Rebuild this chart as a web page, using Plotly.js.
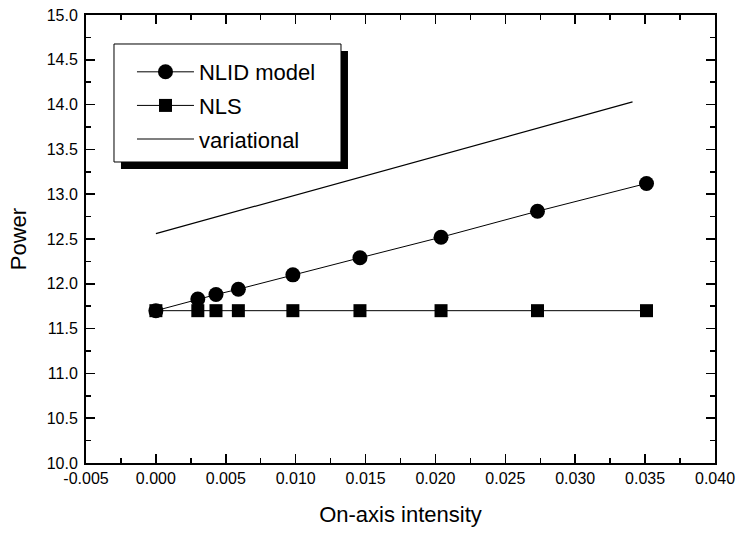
<!DOCTYPE html>
<html>
<head>
<meta charset="utf-8">
<script src="https://cdn.plot.ly/plotly-3.0.1.min.js"></script>
<style>html,body{margin:0;padding:0;background:#fff;}#chart{width:739px;height:536px;}</style>
</head>
<body>
<div id="chart"></div>
<script>
// Data
var nlidX = [0.0000, 0.0030, 0.0043, 0.0059, 0.0098, 0.0146, 0.0204, 0.0273, 0.0351];
var nlidY = [11.70, 11.83, 11.88, 11.94, 12.10, 12.29, 12.52, 12.81, 13.12];
var nlsX  = [0.0000, 0.0030, 0.0043, 0.0059, 0.0098, 0.0146, 0.0204, 0.0273, 0.0351];
var nlsY  = [11.70, 11.70, 11.70, 11.70, 11.70, 11.70, 11.70, 11.70, 11.70];
var varX  = [0.0000, 0.0341];
var varY  = [12.56, 14.03];
var seriesNames = ["NLID model", "NLS", "variational"];
var xTickVals = [-0.005, 0.000, 0.005, 0.010, 0.015, 0.020, 0.025, 0.030, 0.035, 0.040];
var xTickText = ["-0.005", "0.000", "0.005", "0.010", "0.015", "0.020", "0.025", "0.030", "0.035", "0.040"];

var FONT = "Liberation Sans, Arial, sans-serif";

var traces = [
  {x: nlidX, y: nlidY, name: seriesNames[0], legendgroup: "a", mode: "lines+markers",
   line: {color: "#000", width: 1}, marker: {symbol: "circle", size: 15, color: "#000"}},
  {x: nlsX, y: nlsY, name: seriesNames[1], legendgroup: "b", mode: "lines+markers",
   line: {color: "#000", width: 1}, marker: {symbol: "square", size: 13, color: "#000"}},
  {x: varX, y: varY, name: seriesNames[2], legendgroup: "c", mode: "lines",
   line: {color: "#000", width: 1.2}}
];

var axisCommon = {
  showline: true, linecolor: "#000", linewidth: 2, mirror: "ticks",
  ticks: "inside", ticklen: 9, tickwidth: 1.5, tickcolor: "#000",
  showgrid: false, zeroline: false,
  tickfont: {family: FONT, size: 16, color: "#000"}
};

var layout = {
  width: 739, height: 536,
  margin: {l: 86, r: 24, t: 15, b: 73},
  paper_bgcolor: "#fff", plot_bgcolor: "#fff",
  font: {family: FONT, color: "#000"},
  showlegend: true,
  legend: {
    x: 0.0731, y: 0.9196, xanchor: "left", yanchor: "top",
    bgcolor: "rgba(0,0,0,0)", borderwidth: 0, itemwidth: 57,
    font: {family: FONT, size: 22, color: "#000"},
    tracegroupgap: 2, traceorder: "grouped"
  },
  xaxis: Object.assign({}, axisCommon, {
    range: [-0.005, 0.040], tickmode: "array", tickvals: xTickVals, ticktext: xTickText,
    minor: {dtick: 0.0025, tick0: 0, ticks: "inside", ticklen: 5, tickwidth: 1.5, tickcolor: "#000", showgrid: false},
    title: {text: "On-axis intensity", font: {family: FONT, size: 22, color: "#000"}, standoff: 20}
  }),
  yaxis: Object.assign({}, axisCommon, {
    range: [10, 15], dtick: 0.5, tick0: 10, tickformat: ".1f", ticklabelstandoff: 3,
    minor: {dtick: 0.25, ticks: "inside", ticklen: 5, tickwidth: 1.5, tickcolor: "#000", showgrid: false},
    title: {text: "Power", font: {family: FONT, size: 22, color: "#000"}, standoff: 14}
  }),
  shapes: [
    {type: "rect", xref: "paper", yref: "paper", x0: 0.0556, x1: 0.4165, y0: 0.65625, y1: 0.9196,
     fillcolor: "#000", line: {width: 0}, layer: "above"},
    {type: "rect", xref: "paper", yref: "paper", x0: 0.0445, x1: 0.4054, y0: 0.6719, y1: 0.9353,
     fillcolor: "#fff", line: {color: "#000", width: 1}, layer: "above"}
  ]
};

Plotly.newPlot("chart", traces, layout, {displayModeBar: false, staticPlot: true});
</script>
</body>
</html>
